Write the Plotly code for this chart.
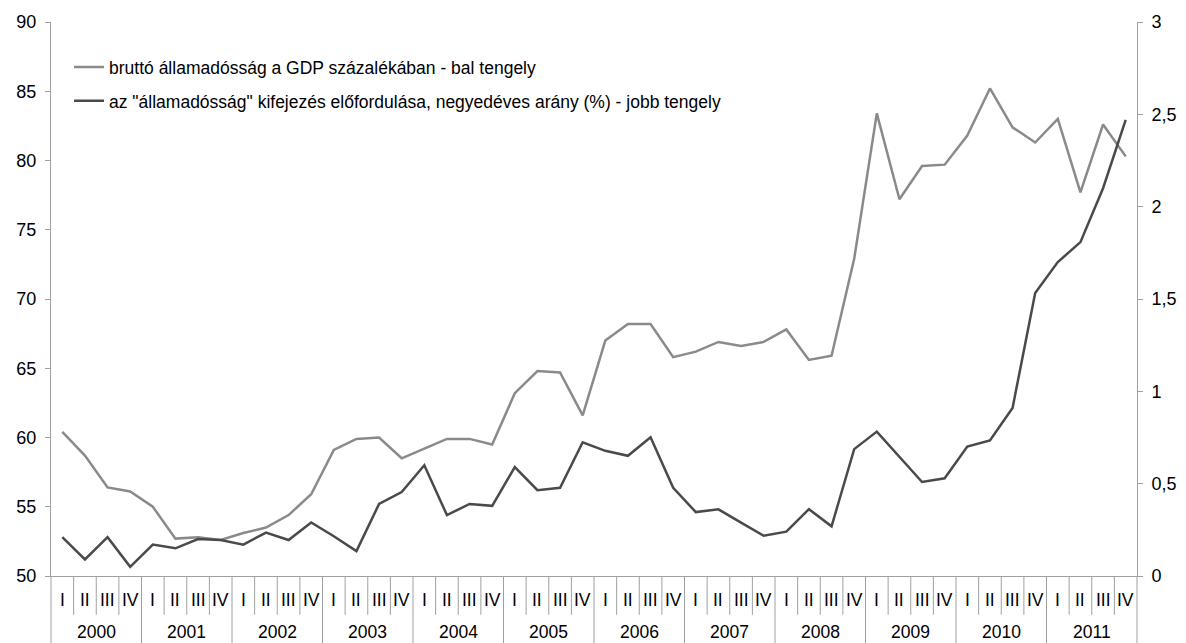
''' Debt chart: gross government debt vs. frequency of the word "államadósság" '''

## Imports
import plotly.graph_objects as go

# Category labels
years = ["2000", "2001", "2002", "2003", "2004", "2005",
         "2006", "2007", "2008", "2009", "2010", "2011"]
quarters = ["I", "II", "III", "IV"]

# Gross debt, % of GDP (left axis)
debt = [60.4, 58.7, 56.4, 56.1,
        55.0, 52.7, 52.8, 52.6,
        53.1, 53.5, 54.4, 55.9,
        59.1, 59.9, 60.0, 58.5,
        59.2, 59.9, 59.9, 59.5,
        63.2, 64.8, 64.7, 61.6,
        67.0, 68.2, 68.2, 65.8,
        66.2, 66.9, 66.6, 66.9,
        67.8, 65.6, 65.9, 72.9,
        83.4, 77.2, 79.6, 79.7,
        81.8, 85.2, 82.4, 81.3,
        83.0, 77.7, 82.6, 80.3]

# Frequency of the expression, quarterly share in % (right axis)
freq = [0.21, 0.09, 0.21, 0.05,
        0.17, 0.15, 0.20, 0.195,
        0.17, 0.235, 0.195, 0.29,
        0.215, 0.135, 0.39, 0.455,
        0.60, 0.33, 0.39, 0.38,
        0.59, 0.465, 0.478, 0.724,
        0.678, 0.651, 0.751, 0.478,
        0.346, 0.361, 0.289, 0.218,
        0.24, 0.362, 0.269, 0.687,
        0.782, 0.647, 0.509, 0.529,
        0.701, 0.734, 0.910, 1.533,
        1.70, 1.808, 2.10, 2.47]

names = ["bruttó államadósság a GDP százalékában - bal tengely",
         "az \"államadósság\" kifejezés előfordulása, negyedéves arány (%) - jobb tengely"]

n = len(debt)
x = list(range(n))
FONT = "Liberation Sans, Arial, sans-serif"
AXIS_COLOR = "#a0a0a0"

fig = go.Figure()

fig.add_trace(go.Scatter(
    x=x, y=debt, mode="lines", name=names[0],
    line=dict(color="#8a8a8a", width=2.5),
    legendgroup="a"
))
fig.add_trace(go.Scatter(
    x=x, y=freq, mode="lines", name=names[1], yaxis="y2",
    line=dict(color="#4a4a4a", width=2.5),
    legendgroup="b"
))

# Quarter / year labels under the plot
annotations = []
for i in range(n):
    annotations.append(dict(
        x=i, y=-0.0425, xref="x", yref="paper", text=quarters[i % 4],
        xanchor="center", yanchor="middle", showarrow=False,
        font=dict(size=17.5, color="#000000", family=FONT)
    ))
for k, yr in enumerate(years):
    annotations.append(dict(
        x=4 * k + 1.5, y=-0.1011, xref="x", yref="paper", text=yr,
        xanchor="center", yanchor="middle", showarrow=False,
        font=dict(size=17.5, color="#000000", family=FONT)
    ))

# Separator lines (paper coords; range -0.5..n-0.5 fills the domain)
shapes = []
for k in range(n + 1):
    px = k / n
    shapes.append(dict(
        type="line", xref="paper", yref="paper",
        x0=px, x1=px, y0=0, y1=(-0.125 if k % 4 == 0 else -0.070),
        line=dict(color=AXIS_COLOR, width=1)
    ))

fig.update_layout(
    width=1178, height=635,
    margin=dict(l=43, r=49, t=14, b=67),
    paper_bgcolor="white", plot_bgcolor="white",
    separators=", ",
    font=dict(family=FONT, size=17.5, color="#000000"),
    showlegend=True,
    legend=dict(
        x=0.0166, y=0.951, xanchor="left", yanchor="top",
        bgcolor="rgba(0,0,0,0)", font=dict(size=17.5, family=FONT),
        traceorder="grouped", tracegroupgap=8
    ),
    xaxis=dict(
        range=[-0.5, n - 0.5], showticklabels=False, showgrid=False,
        zeroline=False, showline=True, linecolor=AXIS_COLOR, ticks="",
        automargin=False
    ),
    yaxis=dict(
        range=[50, 90], dtick=5, showgrid=False, zeroline=False,
        showline=True, linecolor=AXIS_COLOR, ticks="outside",
        ticklen=5, tickcolor=AXIS_COLOR, tickfont=dict(size=18),
        ticklabelstandoff=5, automargin=False
    ),
    yaxis2=dict(
        range=[0, 3], dtick=0.5, overlaying="y", side="right",
        showgrid=False, zeroline=False, showline=True,
        linecolor=AXIS_COLOR, ticks="outside", ticklen=5,
        tickcolor=AXIS_COLOR, tickfont=dict(size=18),
        ticklabelstandoff=5, automargin=False
    ),
    annotations=annotations,
    shapes=shapes
)

fig.write_html("out.html")
